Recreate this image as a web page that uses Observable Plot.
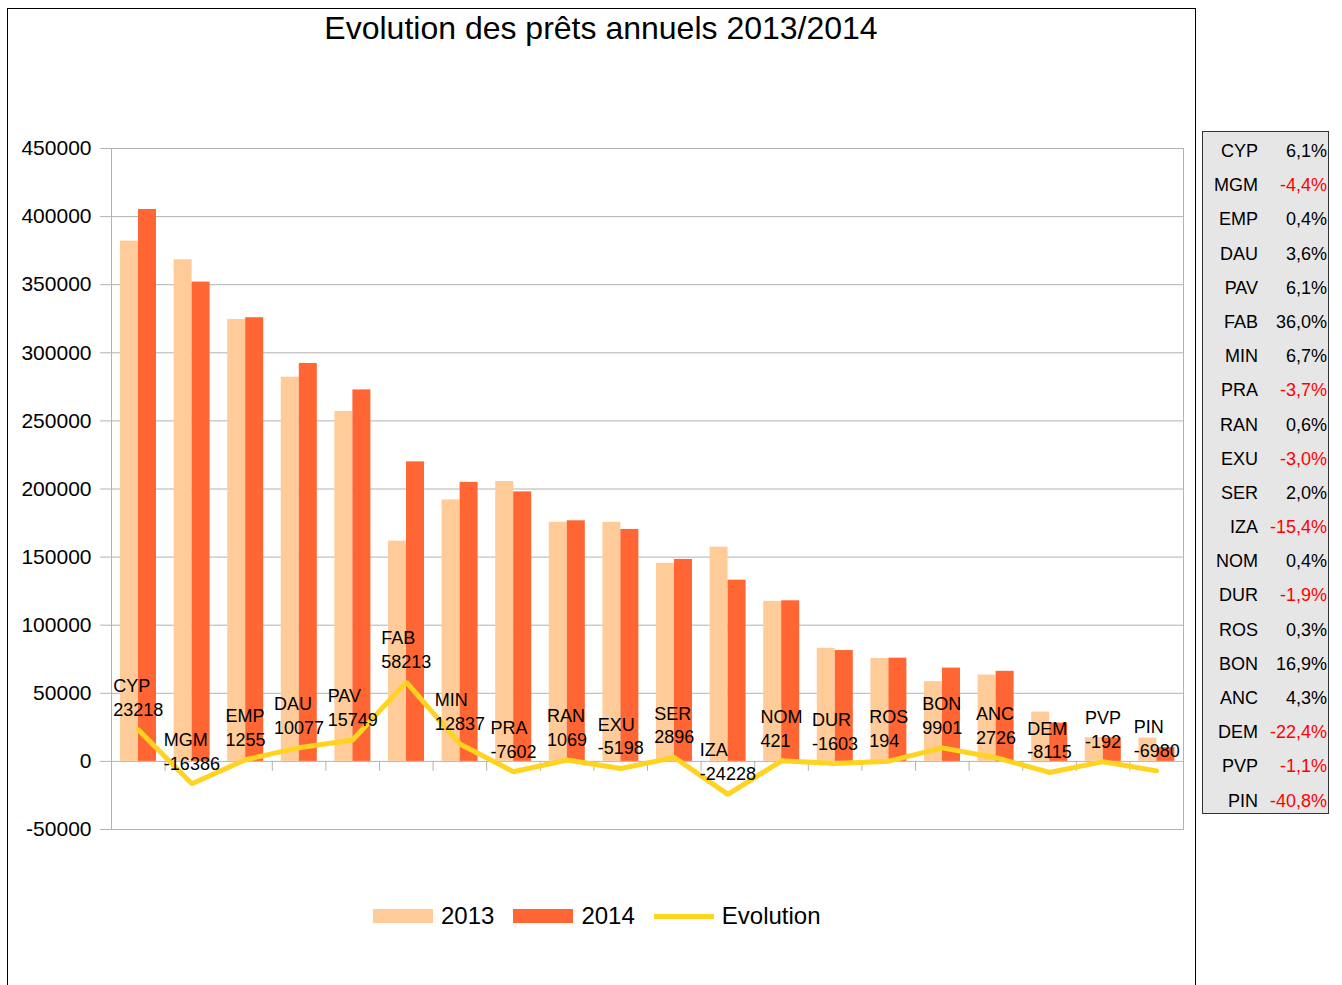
<!DOCTYPE html>
<html>
<head>
<meta charset="utf-8">
<script src="https://cdn.jsdelivr.net/npm/d3@7"></script>
<script src="https://cdn.jsdelivr.net/npm/@observablehq/plot@0.6"></script>
<style>
  html, body { margin: 0; padding: 0; background: #fff; width: 1342px; height: 985px; overflow: hidden; }
  body { position: relative; font-family: "Liberation Sans", Arial, sans-serif; color: #000; }
  #frame { position: absolute; left: 7px; top: 8px; width: 1189px; height: 990px; border: 1.5px solid #000; box-sizing: border-box; }
  #title { position: absolute; left: 7px; width: 1188px; top: 9px; text-align: center; font-size: 32px; line-height: 38px; }
  #chart { position: absolute; left: 0; top: 0; }
  #table { position: absolute; left: 1202px; top: 131px; width: 127px; height: 683px; background: #e6e6e6; border: 1px solid #333; box-sizing: border-box; padding-top: 2px; }
  .row { position: relative; height: 34.2px; line-height: 34.2px; font-size: 18px; }
  .row .c { position: absolute; right: 70px; }
  .row .p { position: absolute; right: 1px; }
  #legend { position: absolute; top: 901px; left: 373px; height: 30px; display: flex; align-items: center; font-size: 24px; }
  .sw { width: 60px; height: 14px; margin-right: 8px; }
  .ln { width: 60px; height: 5px; margin-right: 8px; }
  .lt { margin-right: 19px; }
</style>
</head>
<body>
<div id="frame"></div>
<div id="title">Evolution des prêts annuels 2013/2014</div>
<div id="chart"></div>
<div id="table"></div>
<div id="legend"></div>
<script>
const cats = ["CYP","MGM","EMP","DAU","PAV","FAB","MIN","PRA","RAN","EXU","SER","IZA","NOM","DUR","ROS","BON","ANC","DEM","PVP","PIN"];
const v2013 = [382000, 368300, 324500, 282100, 257000, 161700, 192000, 205500, 175600, 175500, 145400, 157300, 117500, 83000, 75600, 58600, 63400, 36230, 17450, 17110];
const v2014 = [405218, 351914, 325755, 292177, 272749, 219913, 204837, 197898, 176669, 170302, 148296, 133072, 117921, 81397, 75794, 68501, 66126, 28115, 17258, 10130];
const evol = [23218, -16386, 1255, 10077, 15749, 58213, 12837, -7602, 1069, -5198, 2896, -24228, 421, -1603, 194, 9901, 2726, -8115, -192, -6980];
const pctLabels = ["6,1%","-4,4%","0,4%","3,6%","6,1%","36,0%","6,7%","-3,7%","0,6%","-3,0%","2,0%","-15,4%","0,4%","-1,9%","0,3%","16,9%","4,3%","-22,4%","-1,1%","-40,8%"];
const yTicks = [-50000, 0, 50000, 100000, 150000, 200000, 250000, 300000, 350000, 400000, 450000];
const seriesNames = ["2013", "2014", "Evolution"];

const C2013 = "#FFCC99", C2014 = "#FF6633", CEVO = "#FFD320", GRID = "#b3b3b3";

const data = cats.map((c, i) => ({cat: c, a: v2013[i], b: v2014[i], evol: evol[i]}));

const W = 1200, H = 880, ML = 111, MR = 17, MT = 148, MB = 51;
const bw = (W - ML - MR) / cats.length;

const chart = Plot.plot({
  width: W, height: H,
  marginLeft: ML, marginRight: MR, marginTop: MT, marginBottom: MB,
  style: {fontFamily: "'Liberation Sans', Arial, sans-serif", background: "transparent", overflow: "visible"},
  x: {type: "band", domain: cats, padding: 0, round: false, axis: null},
  y: {domain: [-50000, 450000]},
  marks: [
    Plot.gridY(yTicks, {stroke: GRID, strokeOpacity: 1}),
    Plot.barY(data, {x: "cat", y: "a", fill: C2013, insetLeft: 9, insetRight: bw - 27}),
    Plot.barY(data, {x: "cat", y: "b", fill: C2014, insetLeft: 27, insetRight: bw - 45}),
    Plot.frame({stroke: GRID}),
    Plot.ruleX(cats, {x: d => d, dx: -bw / 2, y1: () => 0, y2: () => 0, insetBottom: -10, stroke: GRID}),
    Plot.axisY({ticks: yTicks, tickFormat: d => String(d), tickSize: 11, tickPadding: 9, fontSize: 21, stroke: GRID, fill: "#000", label: null}),
    Plot.lineY(data, {x: "cat", y: "evol", stroke: CEVO, strokeWidth: 5, strokeLinejoin: "miter"}),
    Plot.text(data, {x: "cat", y: "evol", text: d => `${d.cat}\n${d.evol}`, textAnchor: "start", lineAnchor: "bottom", lineHeight: 1.33, dy: -14, fontSize: 18, fill: "#000"})
  ]
});
document.getElementById("chart").appendChild(chart);

// left-aligned label blocks centred on their point
chart.querySelectorAll('g[aria-label="text"] > text').forEach(el => {
  const w = el.getBBox().width;
  const t = el.getAttribute("transform") || "";
  el.setAttribute("transform", `${t} translate(${-w / 2},0)`);
});

const table = document.getElementById("table");
cats.forEach((c, i) => {
  const row = document.createElement("div");
  row.className = "row";
  const neg = pctLabels[i].startsWith("-");
  row.innerHTML = `<span class="c">${c}</span><span class="p" style="color:${neg ? "#ff0000" : "#000"}">${pctLabels[i]}</span>`;
  table.appendChild(row);
});

const legend = document.getElementById("legend");
const colors = [C2013, C2014, CEVO];
seriesNames.forEach((n, i) => {
  const sw = document.createElement("div");
  sw.className = i < 2 ? "sw" : "ln";
  sw.style.background = colors[i];
  const t = document.createElement("div");
  t.className = "lt";
  t.textContent = n;
  legend.appendChild(sw);
  legend.appendChild(t);
});
</script>
</body>
</html>
